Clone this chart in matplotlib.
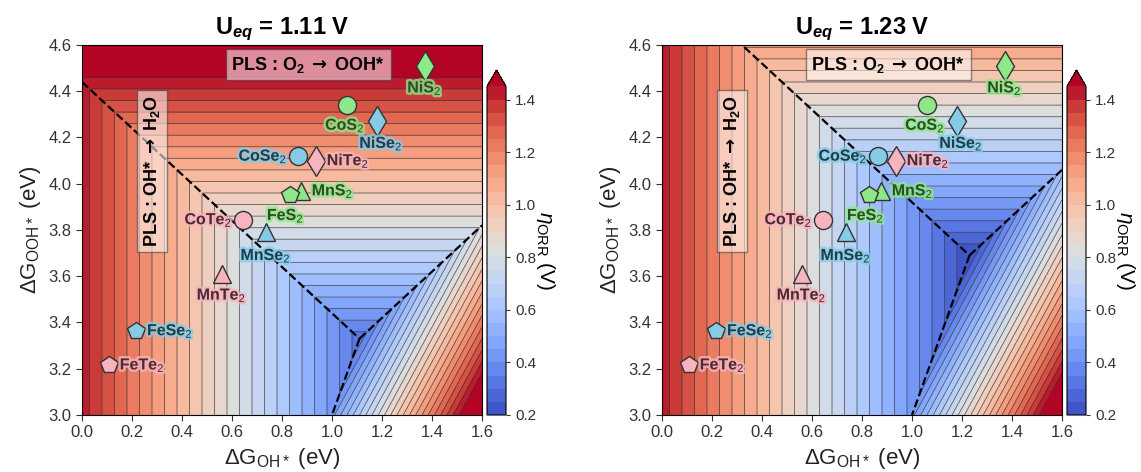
import numpy as np
import matplotlib
matplotlib.use("Agg")
import matplotlib.pyplot as plt
import matplotlib.patheffects as pe
from matplotlib.ticker import FormatStrFormatter

plt.rcParams["font.family"] = ["Liberation Sans", "DejaVu Sans"]
plt.rcParams["mathtext.fontset"] = "custom"
plt.rcParams["mathtext.rm"] = "Liberation Sans"
plt.rcParams["mathtext.it"] = "Liberation Sans:italic"
plt.rcParams["mathtext.bf"] = "Liberation Sans:bold"
plt.rcParams["mathtext.bfit"] = "Liberation Sans:bold:italic"
plt.rcParams["mathtext.sf"] = "DejaVu Sans:bold"

# ---- data ----
u_eq = [1.11, 1.23]
eta_ref = 1.43  # colour offset (vertex of 1.23 V map = 0.2)
levels = np.arange(0.2, 1.451, 0.05)
cbar_ticks = [0.2, 0.4, 0.6, 0.8, 1.0, 1.2, 1.4]

materials = ["NiS2", "CoS2", "NiSe2", "CoSe2", "NiTe2", "MnS2",
             "FeS2", "CoTe2", "MnSe2", "MnTe2", "FeSe2", "FeTe2"]
dg_oh = [1.37, 1.06, 1.18, 0.865, 0.935, 0.875, 0.83, 0.645, 0.735, 0.558, 0.216, 0.107]
dg_ooh = [4.51, 4.34, 4.27, 4.12, 4.10, 3.97, 3.95, 3.845, 3.79, 3.61, 3.365, 3.217]
markers = ["d", "o", "d", "o", "d", "^", "p", "o", "^", "^", "p", "p"]
groups = ["S", "S", "Se", "Se", "Te", "S", "S", "Te", "Se", "Te", "Se", "Te"]
# label offsets in pixels (dx, dy)
label_off = [(0, -22), (-2, -20), (4, -22), (-36, 0), (26, 0), (26, 0),
             (-4, -20), (-32, 0), (0, -23), (0, -21), (34, 0), (32, 0)]

face_col = {"S": "#8ee88a", "Se": "#86cbe6", "Te": "#f7b3c0"}
text_col = {"S": "#2b4f22", "Se": "#1d3f4c", "Te": "#4b2b30"}

arrow = r"$\mathsf{\rightarrow}$"

x = np.linspace(0, 1.6, 801)
y = np.linspace(3.0, 4.6, 801)
X, Y = np.meshgrid(x, y)

W, H = 1141, 472
fig = plt.figure(figsize=(W / 100, H / 100), dpi=100)

for k, U in enumerate(u_eq):
    x0 = 82 + 580 * k
    ax = fig.add_axes([x0 / W, 57 / H, 400 / W, 370 / H])
    cax = fig.add_axes([(x0 + 405) / W, 57 / H, 19 / W, 345 / H])

    # limiting potential, O* eliminated via scaling dG_O = 2 dG_OH
    u_lim = np.minimum(np.minimum(4 * U - Y, Y - 2 * X), X)
    eta = np.clip(eta_ref - u_lim, 0.2, None)

    cf = ax.contourf(X, Y, eta, levels=levels, cmap="coolwarm", extend="max")
    ax.contour(X, Y, eta, levels=levels, colors="#333333", linewidths=0.6, alpha=0.75)

    # region boundaries
    ax.plot([0, U], [4 * U, 3 * U], "k--", lw=1.6)
    ax.plot([U, 1.0], [3 * U, 3.0], "k--", lw=1.6)
    ax.plot([U, 1.6], [3 * U, 2 * U + 1.6], "k--", lw=1.6)

    for i, m in enumerate(materials):
        g = groups[i]
        ax.plot(dg_oh[i], dg_ooh[i], marker=markers[i], ms=13 if markers[i] != "d" else 15,
                mfc=face_col[g], mec="#333333", mew=1.0, ls="none", zorder=5)
        dx, dy = label_off[i]
        ha = "center" if abs(dx) < 10 else ("left" if dx > 0 else "right")
        txt = ax.annotate(m[:-1] + "$_2$", (dg_oh[i], dg_ooh[i]),
                          xytext=(dx if ha == "center" else np.sign(dx) * 11, dy),
                          textcoords="offset pixels", ha=ha, va="center",
                          fontsize=11.5, fontweight="bold", color=text_col[g], zorder=6)
        txt.set_path_effects([pe.withStroke(linewidth=3.5, foreground=face_col[g], alpha=0.8)])

    ax.text(0.905, 4.515, r"PLS : O$_\mathbf{2}$ " + arrow + " OOH*", fontsize=13, fontweight="bold",
            ha="center", va="center", zorder=7,
            bbox=dict(boxstyle="square,pad=0.3", fc="white", alpha=0.55, ec="#333333", lw=1))
    ax.text(0.28, 4.055, r"PLS : OH* " + arrow + r" H$_\mathbf{2}$O", fontsize=13, fontweight="bold",
            rotation=90, ha="center", va="center", zorder=7,
            bbox=dict(boxstyle="square,pad=0.3", fc="white", alpha=0.55, ec="#333333", lw=1))

    ax.set_xlim(0, 1.6)
    ax.set_ylim(3.0, 4.6)
    ax.set_xticks(np.arange(0, 1.61, 0.2))
    ax.set_yticks(np.arange(3.0, 4.61, 0.2))
    ax.xaxis.set_major_formatter(FormatStrFormatter("%.1f"))
    ax.yaxis.set_major_formatter(FormatStrFormatter("%.1f"))
    ax.tick_params(labelsize=12, colors="#333333", length=4)
    ax.set_xlabel(r"ΔG$_{\mathrm{OH*}}$ (eV)", fontsize=16, color="#222222")
    ax.set_ylabel(r"ΔG$_{\mathrm{OOH*}}$ (eV)", fontsize=16, color="#222222")
    ax.set_title(r"U$_{\mathbfit{eq}}$ = %.2f V" % U, fontsize=17, fontweight="bold", pad=8)

    cb = fig.colorbar(cf, cax=cax, ticks=cbar_ticks)
    cb.ax.tick_params(labelsize=11, colors="#333333", length=3)
    cb.ax.yaxis.set_major_formatter(FormatStrFormatter("%.1f"))
    cb.set_label(r"$\eta_{\mathrm{ORR}}$ (V)", fontsize=15, rotation=270, labelpad=15)

fig.savefig("out.png", dpi=100)
